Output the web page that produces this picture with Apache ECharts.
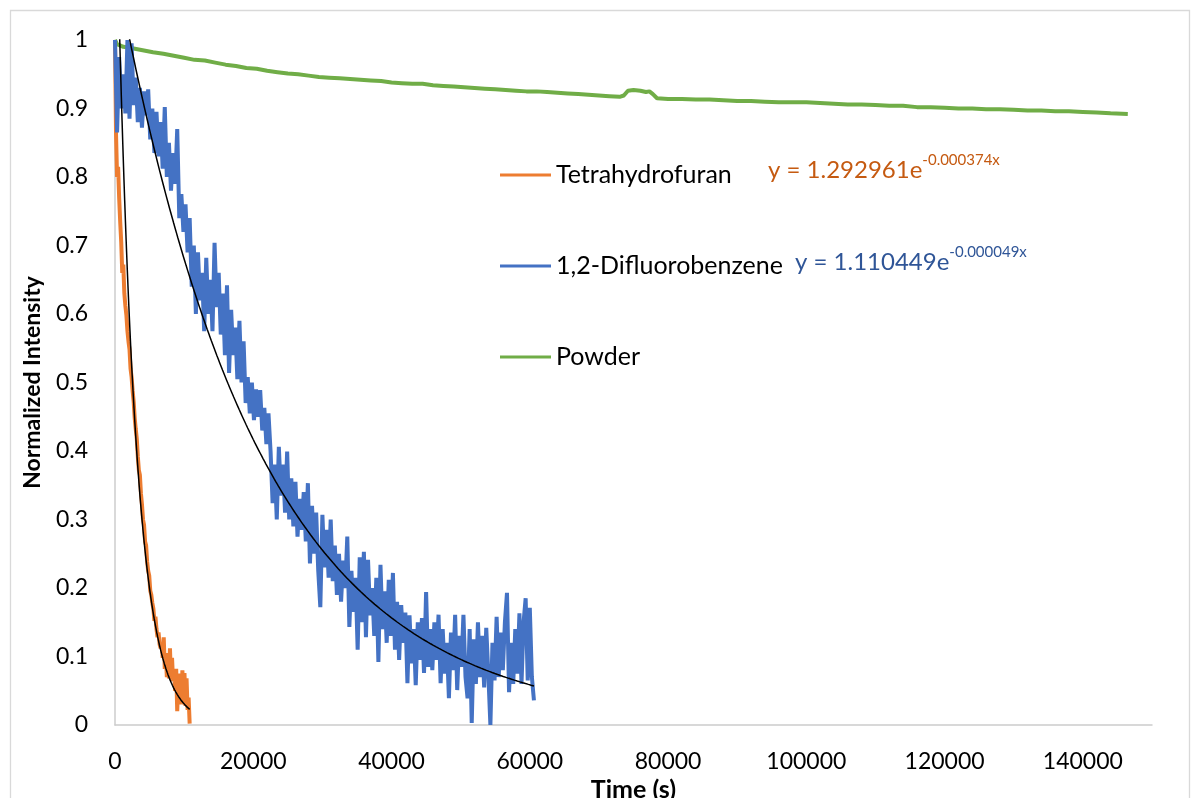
<!DOCTYPE html>
<html>
<head>
<meta charset="utf-8">
<script src="https://cdn.jsdelivr.net/npm/echarts@6/dist/echarts.min.js"></script>
<style>
  html, body { margin: 0; padding: 0; background: #ffffff; }
  #chart { width: 1200px; height: 798px; }
</style>
</head>
<body>
<div id="chart"></div>
<script>
// ---- Data ----------------------------------------------------------------
const seriesNames = ['Tetrahydrofuran', '1,2-Difluorobenzene', 'Powder'];

// Tetrahydrofuran: normalized intensity sampled every 150 s from t = 0
const thfStep = 150;
const thfValues = [
  1.000, 0.862, 0.800, 0.815, 0.770, 0.735, 0.705, 0.660, 0.672, 0.630,
  0.612, 0.598, 0.575, 0.560, 0.548, 0.520, 0.508, 0.488, 0.472, 0.448,
  0.432, 0.418, 0.392, 0.372, 0.365, 0.338, 0.322, 0.300, 0.292, 0.268,
  0.262, 0.238, 0.225, 0.218, 0.196, 0.190, 0.178, 0.170, 0.152, 0.158,
  0.140, 0.128, 0.135, 0.118, 0.112, 0.120, 0.098, 0.128, 0.082, 0.105,
  0.070, 0.098, 0.068, 0.112, 0.066, 0.098, 0.064, 0.072, 0.050, 0.082,
  0.020, 0.062, 0.030, 0.075, 0.036, 0.080, 0.030, 0.076, 0.028, 0.068,
  0.022, 0.040, 0.002
];

// 1,2-Difluorobenzene: normalized intensity sampled every 300 s from t = 0
const dfbStep = 300;
const dfbValues = [
  1.000, 0.865, 0.975, 0.900, 0.950, 0.893, 1.000, 0.885, 0.995, 0.905,
  0.945, 0.880, 0.930, 0.872, 0.925, 0.890, 0.928, 0.855, 0.900, 0.835,
  0.895, 0.830, 0.880, 0.812, 0.902, 0.800, 0.850, 0.780, 0.835, 0.790,
  0.870, 0.740, 0.775, 0.720, 0.760, 0.690, 0.740, 0.640, 0.700, 0.600,
  0.690, 0.620, 0.660, 0.575, 0.682, 0.600, 0.650, 0.575, 0.704, 0.610,
  0.660, 0.570, 0.630, 0.540, 0.642, 0.514, 0.606, 0.540, 0.580, 0.505,
  0.590, 0.500, 0.560, 0.470, 0.508, 0.455, 0.500, 0.445, 0.490, 0.450,
  0.489, 0.430, 0.463, 0.410, 0.455, 0.400, 0.324, 0.380, 0.300, 0.406,
  0.335, 0.380, 0.310, 0.399, 0.300, 0.360, 0.290, 0.355, 0.275, 0.330,
  0.285, 0.340, 0.268, 0.353, 0.236, 0.320, 0.250, 0.310, 0.225, 0.172,
  0.307, 0.230, 0.285, 0.215, 0.300, 0.210, 0.262, 0.190, 0.250, 0.180,
  0.240, 0.200, 0.275, 0.143, 0.225, 0.165, 0.215, 0.110, 0.245, 0.150,
  0.253, 0.128, 0.241, 0.160, 0.200, 0.130, 0.215, 0.092, 0.234, 0.140,
  0.195, 0.120, 0.212, 0.130, 0.222, 0.110, 0.180, 0.095, 0.175, 0.120,
  0.164, 0.061, 0.160, 0.090, 0.140, 0.058, 0.150, 0.095, 0.156, 0.076,
  0.194, 0.085, 0.140, 0.080, 0.150, 0.095, 0.161, 0.061, 0.140, 0.075,
  0.120, 0.039, 0.135, 0.080, 0.161, 0.051, 0.130, 0.085, 0.161, 0.070,
  0.039, 0.140, 0.003, 0.125, 0.060, 0.150, 0.070, 0.130, 0.055, 0.142,
  0.075, 0.000, 0.120, 0.065, 0.158, 0.070, 0.135, 0.080, 0.150, 0.193,
  0.048, 0.120, 0.060, 0.140, 0.075, 0.163, 0.060, 0.150, 0.185, 0.065,
  0.171, 0.070, 0.036
];

// Powder: time (s) and normalized intensity
const powderTime = [
  0, 300, 1200, 2500, 4000, 5500, 7000, 8500, 10000, 11500,
  13000, 14500, 16000, 17500, 19000, 20500, 22000, 23500, 25000, 26500,
  28000, 29500, 31000, 32500, 34000, 35500, 37000, 38500, 40000, 41500,
  43000, 44500, 46000, 47500, 49000, 50500, 52000, 53500, 55000, 56500,
  58000, 59500, 61000, 62500, 64000, 65500, 67000, 68500, 70000, 71500,
  73000, 73600, 74200, 75000, 76000, 76800, 77300, 77800, 78400, 80000,
  82000, 84000, 86000, 88000, 90000, 92000, 94000, 96000, 98000, 100000,
  102000, 104000, 106000, 108000, 110000, 112000, 114000, 116000, 118000, 120000,
  122000, 124000, 126000, 128000, 130000, 132000, 134000, 136000, 138000, 140000,
  142000, 144000, 146500
];
const powderValues = [
  1.000, 0.994, 0.990, 0.988, 0.985, 0.982, 0.980, 0.977, 0.974, 0.971,
  0.970, 0.967, 0.964, 0.962, 0.959, 0.958, 0.955, 0.953, 0.951, 0.950,
  0.948, 0.946, 0.945, 0.944, 0.943, 0.942, 0.941, 0.940, 0.938, 0.937,
  0.936, 0.936, 0.934, 0.933, 0.932, 0.931, 0.930, 0.929, 0.928, 0.927,
  0.926, 0.925, 0.925, 0.924, 0.923, 0.922, 0.921, 0.920, 0.919, 0.918,
  0.917, 0.919, 0.926, 0.927, 0.926, 0.924, 0.925, 0.921, 0.915, 0.914,
  0.914, 0.913, 0.913, 0.912, 0.911, 0.911, 0.910, 0.909, 0.909, 0.909,
  0.908, 0.907, 0.906, 0.906, 0.905, 0.904, 0.904, 0.902, 0.902, 0.901,
  0.900, 0.900, 0.899, 0.899, 0.898, 0.897, 0.897, 0.896, 0.896, 0.895,
  0.894, 0.893, 0.892
];

// Exponential trendlines y = a * e^(b x), as printed on the chart
const thfFit = { a: 1.292961, b: -0.000374, from: 0, to: 10800 };
const dfbFit = { a: 1.110449, b: -0.000049, from: 0, to: 60600 };

// Axis ticks
const xTickStep = 20000;
const yTickStep = 0.1;

// ---- Helpers -------------------------------------------------------------
function stepped(values, step) {
  return values.map((v, i) => [i * step, v]);
}
function paired(xs, ys) {
  return xs.map((x, i) => [x, ys[i]]);
}
function fitCurve(fit, n) {
  const pts = [];
  for (let i = 0; i <= n; i++) {
    const t = fit.from + (fit.to - fit.from) * i / n;
    pts.push([t, fit.a * Math.exp(fit.b * t)]);
  }
  return pts;
}
function eqText(fit) {
  const exp = fit.b.toFixed(6) + 'x';
  return '{m|y = ' + fit.a.toFixed(6) + 'e}{s|' + exp + '}';
}

const FONT = 'Lato';
const colors = { thf: '#ED7D31', dfb: '#4472C4', powder: '#70AD47' };

const chart = echarts.init(document.getElementById('chart'), null, { renderer: 'canvas' });

const option = {
  backgroundColor: '#ffffff',
  animation: false,
  grid: { left: 115, right: 48, top: 40, bottom: 73, containLabel: false, outerBoundsMode: 'none' },
  legend: {
    data: seriesNames,
    orient: 'vertical',
    left: 495,
    top: 155,
    icon: 'rect',
    itemWidth: 51,
    itemHeight: 3,
    itemGap: 61,
    textStyle: { fontFamily: FONT, fontSize: 25, color: '#000000', lineHeight: 30 }
  },
  xAxis: {
    type: 'value',
    min: 0,
    max: 150000,
    interval: xTickStep,
    name: 'Time (s)',
    nameLocation: 'middle',
    nameGap: 49,
    nameTextStyle: { fontFamily: FONT, fontSize: 25, fontWeight: 'bold', color: '#000000' },
    axisLine: { show: true, onZero: false, lineStyle: { color: '#cccccc', width: 1.5 } },
    axisTick: { show: false },
    splitLine: { show: false },
    axisLabel: {
      showMaxLabel: false,
      margin: 25,
      fontFamily: FONT, fontSize: 23, color: '#000000',
      formatter: v => String(v)
    }
  },
  yAxis: {
    type: 'value',
    min: 0,
    max: 1,
    interval: yTickStep,
    name: 'Normalized Intensity',
    nameLocation: 'middle',
    nameGap: 71,
    nameRotate: 90,
    nameTextStyle: { fontFamily: FONT, fontSize: 23, fontWeight: 'bold', color: '#000000' },
    axisLine: { show: true, lineStyle: { color: '#cccccc', width: 1.5 } },
    axisTick: { show: false },
    splitLine: { show: false },
    axisLabel: {
      margin: 27,
      fontFamily: FONT, fontSize: 23, color: '#000000',
      formatter: v => String(+v.toFixed(1))
    }
  },
  series: [
    {
      name: 'Powder', type: 'line', data: paired(powderTime, powderValues),
      showSymbol: false, symbol: 'none', clip: true,
      lineStyle: { color: colors.powder, width: 4 }, itemStyle: { color: colors.powder }, z: 2
    },
    {
      name: 'Tetrahydrofuran', type: 'line', data: stepped(thfValues, thfStep),
      showSymbol: false, symbol: 'none', clip: true,
      lineStyle: { color: colors.thf, width: 4 }, itemStyle: { color: colors.thf }, z: 3
    },
    {
      name: '1,2-Difluorobenzene', type: 'line', data: stepped(dfbValues, dfbStep),
      showSymbol: false, symbol: 'none', clip: true,
      lineStyle: { color: colors.dfb, width: 4 }, itemStyle: { color: colors.dfb }, z: 4
    },
    {
      name: 'THF fit', type: 'line', data: fitCurve(thfFit, 200),
      showSymbol: false, symbol: 'none', clip: true, smooth: false,
      lineStyle: { color: '#000000', width: 1.5 }, z: 5
    },
    {
      name: 'DFB fit', type: 'line', data: fitCurve(dfbFit, 300),
      showSymbol: false, symbol: 'none', clip: true, smooth: false,
      lineStyle: { color: '#000000', width: 1.5 }, z: 5
    }
  ],
  graphic: [
    {
      type: 'rect', silent: true, z: 0,
      shape: { x: 10.5, y: 10.5, width: 1179, height: 800 },
      style: { fill: 'none', stroke: '#d9d9d9', lineWidth: 1.3 }
    },
    {
      type: 'text', x: 768, y: 153, z: 10,
      style: {
        text: eqText(thfFit),
        rich: {
          m: { fontFamily: FONT, fontSize: 24, fill: '#C55A11', lineHeight: 34, verticalAlign: 'middle' },
          s: { fontFamily: FONT, fontSize: 15, fill: '#C55A11', lineHeight: 16, verticalAlign: 'top' }
        }
      }
    },
    {
      type: 'text', x: 795, y: 245, z: 10,
      style: {
        text: eqText(dfbFit),
        rich: {
          m: { fontFamily: FONT, fontSize: 24, fill: '#2F5597', lineHeight: 34, verticalAlign: 'middle' },
          s: { fontFamily: FONT, fontSize: 15, fill: '#2F5597', lineHeight: 16, verticalAlign: 'top' }
        }
      }
    }
  ]
};

chart.setOption(option);
</script>
</body>
</html>
